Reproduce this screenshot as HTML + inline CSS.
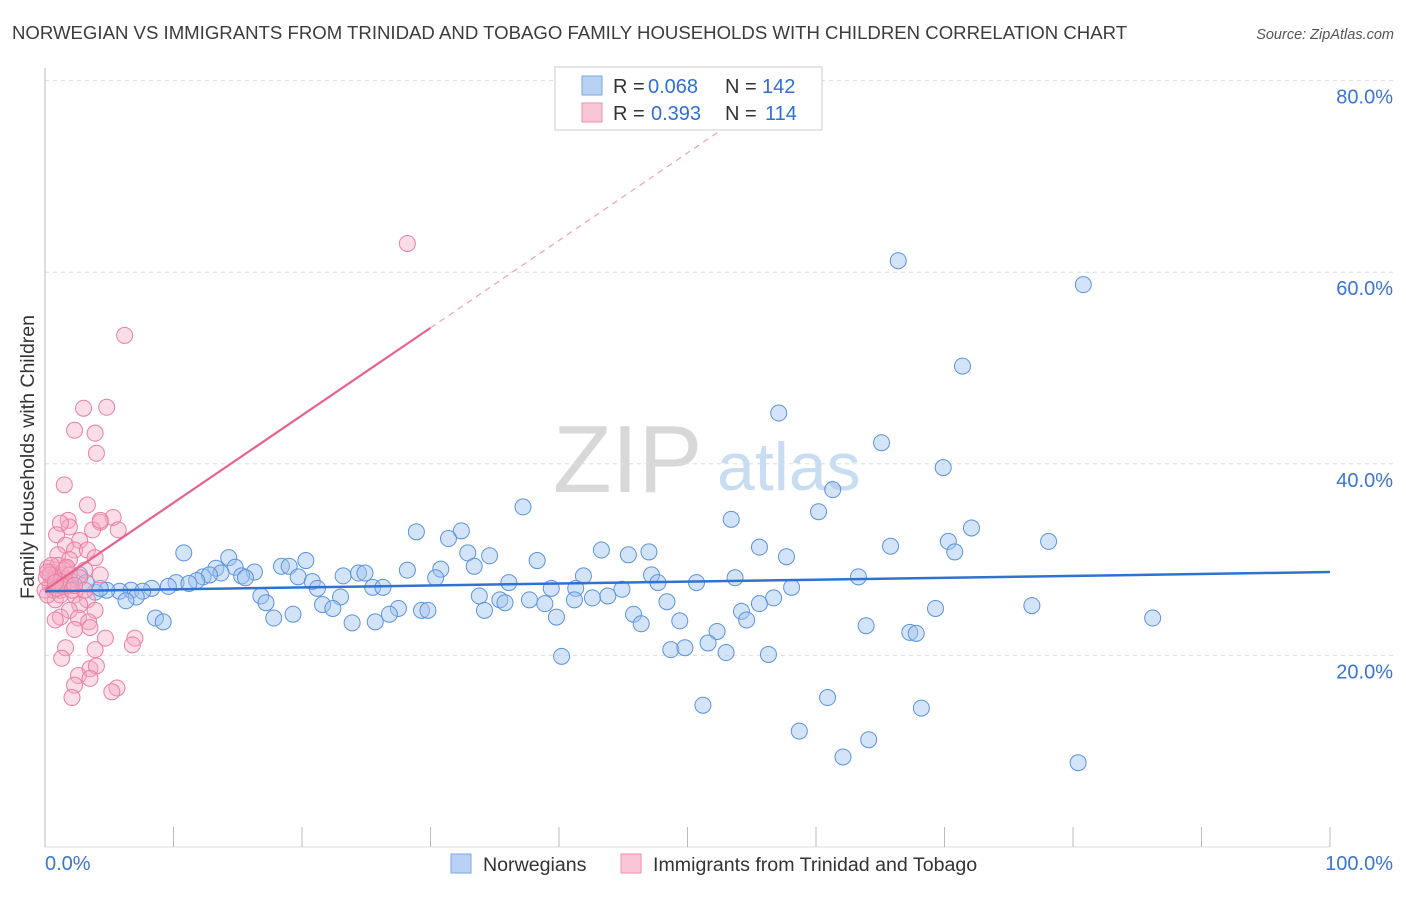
<!DOCTYPE html>
<html><head><meta charset="utf-8"><style>
body{margin:0;background:#fff;font-family:"Liberation Sans",sans-serif}
svg text{font-family:"Liberation Sans",sans-serif}
</style></head><body>
<svg id="chart" width="1406" height="892" xmlns="http://www.w3.org/2000/svg">
<text x="12" y="39" font-size="18.6" fill="#3c3c3c">NORWEGIAN VS IMMIGRANTS FROM TRINIDAD AND TOBAGO FAMILY HOUSEHOLDS WITH CHILDREN CORRELATION CHART</text>
<text x="1394" y="39" font-size="14.5" fill="#555" font-style="italic" text-anchor="end">Source: ZipAtlas.com</text>
<g>
<text x="553" y="492" font-size="96" font-family="Liberation Serif" fill="#d8d8d8">ZIP</text>
<text x="717" y="490" font-size="68" fill="#c8dcf2">atlas</text>
</g>
<g id="grid"></g>
<g id="axes"></g>
<g id="marks"></g>
<text transform="translate(34,457) rotate(-90)" font-size="19.5" fill="#333" text-anchor="middle">Family Households with Children</text>
<g>
<rect x="555" y="67" width="267" height="63" fill="#fff" stroke="#ccc"/>
<rect x="582" y="76" width="20" height="19" fill="#b9d2f3" stroke="#7aa6e6"/>
<rect x="582" y="103" width="20" height="19" fill="#f9c6d5" stroke="#ee92ae"/>
<text x="613" y="93" font-size="20" fill="#333">R =</text>
<text x="648" y="93" font-size="20" fill="#2f6fd6">0.068</text>
<text x="725" y="93" font-size="20" fill="#333">N =</text>
<text x="762" y="93" font-size="20" fill="#2f6fd6">142</text>
<text x="613" y="120" font-size="20" fill="#333">R =</text>
<text x="651" y="120" font-size="20" fill="#2f6fd6">0.393</text>
<text x="725" y="120" font-size="20" fill="#333">N =</text>
<text x="765" y="120" font-size="20" fill="#2f6fd6">114</text>
</g>
<g>
<rect x="451" y="854" width="20" height="19" fill="#b9d2f3" stroke="#7aa6e6"/>
<text x="483" y="871" font-size="19.6" fill="#333">Norwegians</text>
<rect x="621" y="854" width="20" height="19" fill="#f9c6d5" stroke="#ee92ae"/>
<text x="653" y="871" font-size="19.6" fill="#333">Immigrants from Trinidad and Tobago</text>
</g>
</svg>
<script>
const yTicks=[20,40,60,80];
const yTickLabels=["20.0%","40.0%","60.0%","80.0%"];
const xTicks=[0,10,20,30,40,50,60,70,80,90,100];
const blueX=[66.4,80.8,71.4,57.1,65.1,69.9,61.3,37.2,53.4,60.2,72.1,28.9,32.4,31.4,78.1,70.3,65.8,70.8,43.3,55.6,47.0,45.4,32.9,34.6,38.3,57.7,10.8,14.3,20.3,18.4,19.0,14.8,13.3,16.3,15.3,13.7,12.3,12.8,15.6,28.2,30.8,33.4,41.9,47.2,53.7,63.3,23.2,24.4,24.9,30.4,36.1,11.8,10.2,9.6,11.2,19.7,20.8,25.5,26.3,21.2,50.7,47.7,39.4,41.3,44.9,58.1,8.3,6.7,5.8,4.8,7.6,3.9,7.1,6.3,16.8,17.2,23.0,21.6,22.4,33.8,35.4,35.8,37.7,38.9,42.6,43.8,41.2,48.4,55.6,56.7,27.5,26.8,29.3,29.8,34.2,54.2,69.3,76.8,17.8,19.3,45.8,39.8,23.9,25.7,8.6,9.2,49.4,46.4,54.6,63.9,86.2,52.3,67.3,67.8,51.6,48.7,49.8,53.0,56.3,40.2,51.2,60.9,68.2,58.7,64.1,62.1,80.4,1.2,1.9,2.7,4.3,0.8,3.2];
const blueY=[61.2,58.7,50.2,45.3,42.2,39.6,37.3,35.5,34.2,35.0,33.3,32.9,33.0,32.2,31.9,31.9,31.4,30.8,31.0,31.3,30.8,30.5,30.7,30.4,29.9,30.3,30.7,30.2,29.9,29.3,29.3,29.2,29.1,28.7,28.3,28.6,28.2,28.4,28.1,28.9,29.0,29.3,28.3,28.4,28.1,28.2,28.3,28.6,28.6,28.1,27.6,27.8,27.6,27.2,27.5,28.2,27.7,27.1,27.1,27.0,27.6,27.6,27.0,27.0,26.9,27.1,27.0,26.8,26.7,26.8,26.7,26.6,26.1,25.7,26.2,25.5,26.1,25.3,24.9,26.2,25.8,25.5,25.8,25.4,26.0,26.2,25.8,25.6,25.4,26.0,24.9,24.3,24.7,24.7,24.7,24.6,24.9,25.2,23.9,24.3,24.3,24.0,23.4,23.5,23.9,23.5,23.6,23.3,23.7,23.1,23.9,22.5,22.4,22.3,21.3,20.6,20.8,20.3,20.1,19.9,14.8,15.6,14.5,12.1,11.2,9.4,8.8,28.1,27.9,28.4,27.0,27.3,27.6];
const pinkX=[28.2,6.2,3.0,4.8,2.3,3.9,4.0,1.5,3.3,5.3,4.3,1.8,1.9,1.2,3.7,4.3,0.9,2.7,1.6,2.3,3.3,1.0,1.9,3.9,1.6,3.1,4.3,0.8,1.2,2.3,3.3,0.8,2.7,1.9,3.9,1.2,2.6,3.4,0.8,2.3,3.5,4.7,7.0,6.8,1.6,3.9,1.3,3.5,4.0,2.6,3.5,2.3,5.6,5.2,2.1,5.7,0.2,0.5,0.9,1.2,0.4,0,1.3,1.6,0.7,0.2,1.0,1.5,1.8,0.1,0.5,1.9,1.2,0.4,0.9,1.4,1.7,2.1,0.2,0.8,2.7,3.1,2.3];
const pinkY=[63.0,53.4,45.8,45.9,43.5,43.2,41.1,37.8,35.7,34.4,33.9,34.1,33.4,33.8,33.1,34.1,32.6,32.0,31.5,31.0,31.0,30.5,30.0,30.2,29.1,28.9,28.4,28.4,26.8,26.3,25.8,25.8,25.3,24.7,24.7,24.0,23.9,23.5,23.7,22.7,22.9,21.8,21.8,21.1,20.8,20.6,19.7,18.6,18.9,17.9,17.6,16.9,16.6,16.2,15.6,33.1,29.1,28.7,28.1,27.7,27.3,26.8,28.4,27.9,26.8,26.3,29.4,28.9,27.3,28.1,29.4,28.4,26.3,28.4,27.0,27.2,29.2,26.8,28.7,27.6,28.1,26.8,27.3];
const blueTrend=[26.7,28.7];   // y at x=0, x=100
const pinkTrend=[26.8,0.913];  // intercept, slope
const NS='http://www.w3.org/2000/svg';
const X0=45,X1=1330,Y0=847,YPX=9.58;
function sx(v){return X0+(X1-X0)*v/100;}
function sy(v){return Y0-v*YPX;}
function mk(tag,attrs,parent){const e=document.createElementNS(NS,tag);for(const k in attrs)e.setAttribute(k,attrs[k]);parent.appendChild(e);return e;}
const grid=document.getElementById('grid'),axes=document.getElementById('axes'),marks=document.getElementById('marks');
yTicks.forEach((t,i)=>{
  const l=mk('line',{x1:X0,x2:1394,y1:sy(t),y2:sy(t),stroke:'#ddd','stroke-dasharray':'4,4'},grid);
  
  
  const tx=mk('text',{x:1393,y:sy(t)+23,'font-size':20,fill:'#3a74d4','text-anchor':'end'},axes);
  tx.textContent=yTickLabels[i];
  
  
});
const yAxis=mk('line',{x1:X0,x2:X0,y1:68,y2:Y0,stroke:'#bbb'},axes);


const xAxis=mk('line',{x1:X0,x2:X1,y1:Y0,y2:Y0,stroke:'#ddd'},axes);


xTicks.forEach(t=>{
  const l=mk('line',{x1:sx(t),x2:sx(t),y1:827,y2:Y0,stroke:'#bbb'},axes);
  
  
});
const xl0=mk('text',{x:45,y:870,'font-size':20,fill:'#3a74d4'},axes);xl0.textContent='0.0%';


const xl1=mk('text',{x:1393,y:870,'font-size':20,fill:'#3a74d4','text-anchor':'end'},axes);xl1.textContent='100.0%';


blueX.forEach((v,i)=>{
  const c=mk('circle',{cx:sx(v),cy:sy(blueY[i]),r:8,fill:'rgba(160,196,240,0.45)',stroke:'#5a93e0','stroke-width':1},marks);
  
  
});
pinkX.forEach((v,i)=>{
  const c=mk('circle',{cx:sx(v),cy:sy(pinkY[i]),r:8,fill:'rgba(246,170,195,0.4)',stroke:'#ec7fa2','stroke-width':1},marks);
  
  
});
const bl=mk('line',{x1:sx(0),y1:sy(blueTrend[0]),x2:sx(100),y2:sy(blueTrend[1]),stroke:'#2f72d2','stroke-width':2.5},marks);


const pl=mk('line',{x1:sx(0),y1:sy(pinkTrend[0]),x2:sx(30),y2:sy(pinkTrend[0]+30*pinkTrend[1]),stroke:'#e8628d','stroke-width':2.2},marks);


const pd=mk('line',{x1:sx(30),y1:sy(pinkTrend[0]+30*pinkTrend[1]),x2:sx(53.3),y2:sy(pinkTrend[0]+53.3*pinkTrend[1]),stroke:'#f0a0ba','stroke-width':1.2,'stroke-dasharray':'6,5'},marks);


</script>
</body></html>
